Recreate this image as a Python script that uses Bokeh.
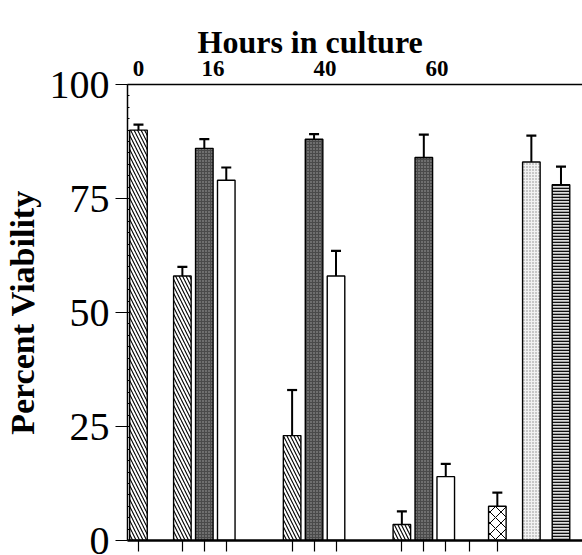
from bokeh.plotting import figure
from bokeh.models import (LinearAxis, FixedTicker, Range1d, ColumnDataSource,
                          Whisker, TeeHead)
from bokeh.embed import file_html
from bokeh.resources import INLINE

# ---- data ----
bar_x = [0.5, 2.5, 3.5, 4.5, 7.5, 8.5, 9.5, 12.5, 13.5, 14.5, 16.85, 18.4, 19.75]
values = [90, 58, 86, 79, 23, 88, 58, 3.5, 84, 14, 7.5, 83, 78]
err_top = [91.2, 60, 88, 81.8, 33, 89.1, 63.5, 6.4, 89, 16.8, 10.5, 88.8, 82]
styles = ["hatch", "hatch", "dark", "open", "hatch", "dark", "open",
          "hatch", "dark", "open", "cross", "light", "stripe"]
slot_ticks = [0.5, 2.5, 3.5, 4.5, 7.5, 8.5, 9.5, 12.5, 13.5, 14.5, 15.6, 16.85]
hour_pos = [0.5, 3.9, 9.0, 14.1]
hour_labels = ["0", "16", "40", "60"]
y_ticks = [0, 25, 50, 75, 100]

SERIF = "Liberation Serif"

p = figure(width=582, height=555, x_range=Range1d(0, 20.73), y_range=Range1d(0, 100),
           output_backend="svg", toolbar_location=None,
           min_border_left=126, min_border_top=84, min_border_right=0,
           min_border_bottom=11)
p.grid.visible = False
p.outline_line_color = None

style_kw = {
    "hatch": dict(fill_color="white", hatch_pattern="\\", hatch_color="black",
                  hatch_scale=7, hatch_weight=1.1),
    "dark": dict(fill_color="#4a4a4a", hatch_pattern=".", hatch_color="#a8a8a8",
                 hatch_scale=3, hatch_weight=1),
    "open": dict(fill_color="white"),
    "cross": dict(fill_color="white", hatch_pattern="x", hatch_color="black",
                  hatch_scale=11, hatch_weight=1),
    "light": dict(fill_color="#f2f2f2", hatch_pattern=".", hatch_color="#8a8a8a",
                  hatch_scale=3, hatch_weight=1),
    "stripe": dict(fill_color="#dddddd", hatch_pattern="-", hatch_color="#111111",
                   hatch_scale=3, hatch_weight=1.6),
}

for st, kw in style_kw.items():
    idx = [i for i, s in enumerate(styles) if s == st]
    src = ColumnDataSource(dict(x=[bar_x[i] for i in idx], top=[values[i] for i in idx]))
    p.vbar(x="x", top="top", bottom=0, width=0.8, source=src,
           line_color="black", line_width=1.4, **kw)

err_src = ColumnDataSource(dict(x=bar_x, lo=values, hi=err_top))
p.add_layout(Whisker(base="x", upper="hi", lower="lo", source=err_src,
                     line_color="black", line_width=2,
                     upper_head=TeeHead(size=10, line_width=2.2, line_color="black"),
                     lower_head=None))

# bottom axis: tick marks only
bx = p.xaxis[0]
bx.ticker = FixedTicker(ticks=slot_ticks, minor_ticks=[])
bx.major_label_overrides = {v: " " for v in slot_ticks}
bx.major_label_text_font_size = "1px"
bx.major_label_standoff = 0
bx.major_tick_out = 11
bx.major_tick_in = 0
bx.minor_tick_out = 0
bx.minor_tick_in = 0
bx.axis_line_width = 2.5
bx.major_tick_line_width = 1.2

# left axis
ly = p.yaxis[0]
ly.ticker = FixedTicker(ticks=y_ticks, minor_ticks=[i * 2.5 for i in range(41)])
ly.major_tick_out = 12
ly.major_tick_in = 0
ly.minor_tick_in = 2
ly.minor_tick_out = 0
ly.axis_line_width = 1.5
ly.major_tick_line_width = 1.2
ly.major_label_text_font = SERIF
ly.major_label_text_font_size = "40px"
ly.major_label_text_color = "black"
ly.major_label_standoff = 6
ly.axis_label = "Percent Viability"
ly.axis_label_text_font = SERIF
ly.axis_label_text_font_size = "34px"
ly.axis_label_text_font_style = "bold"
ly.axis_label_text_color = "black"
ly.axis_label_standoff = 6

# top axis with hours
top = LinearAxis(ticker=FixedTicker(ticks=hour_pos, minor_ticks=[]),
                 major_label_overrides={v: l for v, l in zip(hour_pos, hour_labels)},
                 major_tick_out=0, major_tick_in=0, minor_tick_out=0, minor_tick_in=0,
                 axis_line_width=1.5,
                 major_label_text_font=SERIF, major_label_text_font_size="23px",
                 major_label_text_font_style="bold", major_label_text_color="black",
                 major_label_standoff=9)
p.add_layout(top, "above")

p.title.text = "Hours in culture"
p.title.text_font = SERIF
p.title.text_font_size = "32px"
p.title.text_font_style = "bold"
p.title.text_color = "black"
p.title.align = "left"
p.title.offset = 70
p.title.standoff = -5

open("out.html", "w").write(file_html(p, INLINE))
